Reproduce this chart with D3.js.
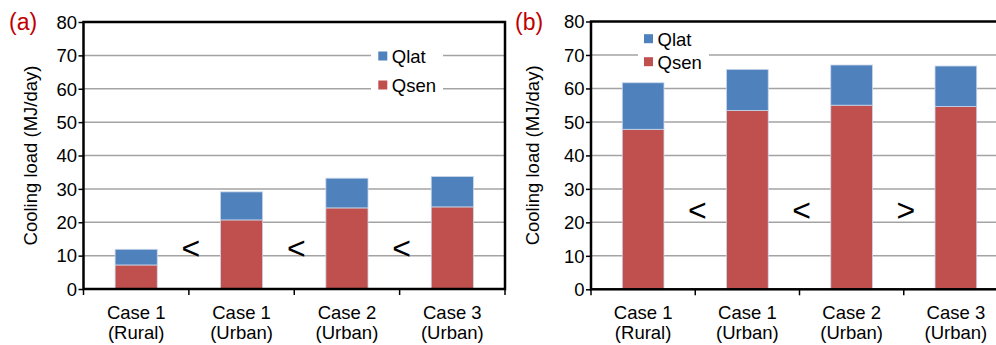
<!DOCTYPE html>
<meta charset="utf-8">
<style>
  body { margin: 0; background: #fff; }
  text { font-family: "Liberation Sans", Arial, sans-serif; fill: #000; }
</style>
<svg width="996" height="345"></svg>
<script src="https://cdnjs.cloudflare.com/ajax/libs/d3/7.8.5/d3.min.js"></script>
<script>
  var categories = ["Case 1|(Rural)", "Case 1|(Urban)", "Case 2|(Urban)", "Case 3|(Urban)"];
  var keys = ["Qsen", "Qlat"];
  var yTicks = [0, 10, 20, 30, 40, 50, 60, 70, 80];

  // panel (a)
  var qsenA = [7.2, 20.7, 24.3, 24.6];
  var qlatA = [4.7, 8.4, 8.9, 9.1];
  var signsA = ["<", "<", "<"];
  // panel (b)
  var qsenB = [47.8, 53.4, 55.0, 54.6];
  var qlatB = [13.9, 12.3, 12.0, 12.1];
  var signsB = ["<", "<", ">"];

  var colors = { Qsen: "#c0504d", Qlat: "#4f81bd" };

  var svg = d3.select("svg");

  function drawPanel(opt) {
    var x = d3.scaleBand()
      .domain(categories)
      .range([opt.left, opt.right])
      .paddingInner(0.6)
      .paddingOuter(0.3);
    var y = d3.scaleLinear().domain([0, 80]).range([opt.bottom, opt.top]);

    var data = categories.map(function(c, i) {
      return { cat: c, Qsen: opt.qsen[i], Qlat: opt.qlat[i] };
    });

    var g = svg.append("g");

    // gridlines
    g.selectAll(".grid")
      .data(yTicks.filter(function(t) { return t > 0 && t < 80; }))
      .enter().append("line")
      .attr("x1", opt.left).attr("x2", opt.right)
      .attr("y1", function(d) { return y(d); })
      .attr("y2", function(d) { return y(d); })
      .attr("stroke", "#a3a3a3")
      .attr("stroke-width", 1.5);

    // bars
    var stack = d3.stack().keys(keys)(data);
    g.selectAll(".serie")
      .data(stack)
      .enter().append("g")
      .attr("fill", function(d) { return colors[d.key]; })
      .selectAll("rect")
      .data(function(d) { return d; })
      .enter().append("rect")
      .attr("x", function(d) { return x(d.data.cat); })
      .attr("y", function(d) { return y(d[1]); })
      .attr("height", function(d) { return y(d[0]) - y(d[1]); })
      .attr("width", x.bandwidth())
      .attr("stroke", "#c9d7ea")
      .attr("stroke-width", 0.8);

    // frame
    g.append("rect")
      .attr("x", opt.left).attr("y", opt.top)
      .attr("width", opt.right - opt.left)
      .attr("height", opt.bottom - opt.top)
      .attr("fill", "none")
      .attr("stroke", "#000")
      .attr("stroke-width", 2.5);

    // legend
    var lg = g.append("g");
    lg.append("rect")
      .attr("x", opt.legend.x).attr("y", opt.legend.y)
      .attr("width", opt.legend.w).attr("height", opt.legend.h)
      .attr("fill", "#fff");
    ["Qlat", "Qsen"].forEach(function(k, i) {
      var yy = opt.legend.y + opt.legend.first + i * opt.legend.gap;
      lg.append("rect")
        .attr("x", opt.legend.x + opt.legend.sx)
        .attr("y", yy - 11.5)
        .attr("width", 9).attr("height", 9)
        .attr("fill", colors[k]);
      lg.append("text")
        .attr("x", opt.legend.x + opt.legend.sx + 13.5)
        .attr("y", yy)
        .style("font-size", "18.5px")
        .text(k);
    });

    // y axis
    var ya = g.append("g")
      .attr("transform", "translate(" + opt.left + ",0)")
      .call(d3.axisLeft(y).tickValues(yTicks).tickSize(5).tickSizeOuter(0).tickPadding(1.5));
    ya.select(".domain").remove();
    ya.selectAll("line").attr("stroke", "#000").attr("stroke-width", 1.5);
    ya.selectAll("text").style("font-size", "18.5px").attr("fill", "#000").attr("dy", "0.34em");

    // x axis ticks at band boundaries
    var step = x.step();
    var bounds = d3.range(categories.length + 1).map(function(i) { return opt.left + i * step; });
    g.selectAll(".xt")
      .data(bounds)
      .enter().append("line")
      .attr("x1", function(d) { return d; }).attr("x2", function(d) { return d; })
      .attr("y1", opt.bottom).attr("y2", opt.bottom + 6)
      .attr("stroke", "#000").attr("stroke-width", 1.5);

    var xl = g.selectAll(".xl")
      .data(categories)
      .enter().append("text")
      .attr("text-anchor", "middle")
      .style("font-size", "18.5px")
      .attr("transform", function(d) { return "translate(" + (x(d) + x.bandwidth() / 2) + ",0)"; });
    xl.append("tspan").attr("x", 0).attr("y", opt.bottom + 30)
      .text(function(d) { return d.split("|")[0]; });
    xl.append("tspan").attr("x", 0).attr("y", opt.bottom + 50)
      .text(function(d) { return d.split("|")[1]; });

    // comparison signs between categories
    g.selectAll(".sign")
      .data(opt.signs)
      .enter().append("text")
      .attr("x", function(d, i) { return bounds[i + 1] + 2; })
      .attr("y", y(opt.signY))
      .attr("dy", "0.35em")
      .attr("text-anchor", "middle")
      .style("font-size", "32px")
      .text(function(d) { return d; });

    // y title
    g.append("text")
      .attr("transform", "translate(" + opt.titleX + "," + ((opt.top + opt.bottom) / 2) + ") rotate(-90)")
      .attr("text-anchor", "middle")
      .attr("dy", "0.35em")
      .style("font-size", "18.5px")
      .text("Cooling load (MJ/day)");

    // panel tag
    g.append("text")
      .attr("x", opt.tagX).attr("y", 30)
      .style("font-size", "23px")
      .style("fill", "#c00000")
      .text(opt.tag);
  }

  drawPanel({
    left: 83.5, right: 505, top: 22, bottom: 289,
    qsen: qsenA, qlat: qlatA, signs: signsA, signY: 12.4,
    legend: { x: 371, y: 45, w: 72, h: 52, sx: 7.3, first: 18, gap: 29 },
    titleX: 30.5, tag: "(a)", tagX: 9
  });

  drawPanel({
    left: 591, right: 1008, top: 21.5, bottom: 289.3,
    qsen: qsenB, qlat: qlatB, signs: signsB, signY: 23.7,
    legend: { x: 638, y: 29, w: 71, h: 46, sx: 6, first: 16.7, gap: 23 },
    titleX: 533, tag: "(b)", tagX: 515
  });
</script>
